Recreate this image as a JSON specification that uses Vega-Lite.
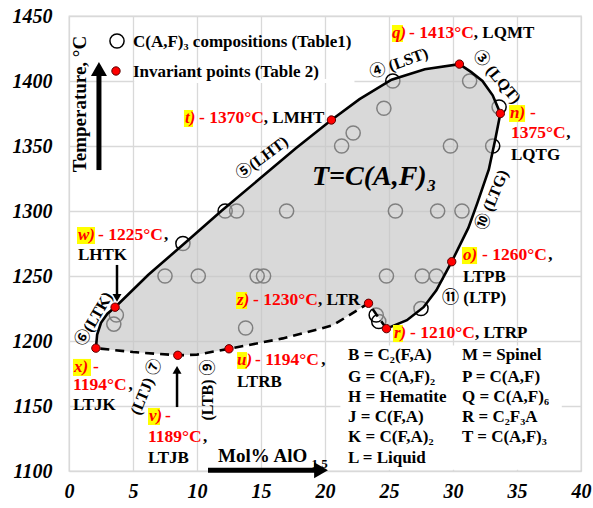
{
  "$schema": "https://vega.github.io/schema/vega-lite/v6.json",
  "width": 512,
  "height": 455,
  "autosize": {"type": "none"},
  "padding": {"left": 69, "top": 16, "right": 12, "bottom": 37},
  "background": "white",
  "config": {"view": {"stroke": "#d9d9d9", "strokeWidth": 1.3}, "font": "Liberation Serif"},
  "datasets": {
    "comp": [
      {"x": 25.3, "y": 1400}, {"x": 31.3, "y": 1400}, {"x": 24.6, "y": 1379}, {"x": 33.6, "y": 1380},
      {"x": 22.2, "y": 1360}, {"x": 21.3, "y": 1350}, {"x": 29.8, "y": 1350}, {"x": 33.1, "y": 1350},
      {"x": 12.2, "y": 1300}, {"x": 13.1, "y": 1300}, {"x": 17.0, "y": 1300}, {"x": 25.5, "y": 1300},
      {"x": 28.8, "y": 1300}, {"x": 30.7, "y": 1300}, {"x": 8.9, "y": 1275}, {"x": 7.5, "y": 1250},
      {"x": 10.1, "y": 1250}, {"x": 14.7, "y": 1250}, {"x": 15.2, "y": 1250}, {"x": 24.8, "y": 1250},
      {"x": 27.6, "y": 1250}, {"x": 28.7, "y": 1250}, {"x": 27.5, "y": 1225}, {"x": 3.7, "y": 1220},
      {"x": 3.5, "y": 1213}, {"x": 24.0, "y": 1220}, {"x": 24.2, "y": 1215}, {"x": 13.8, "y": 1210},
      {"x": 3.75, "y": 1430.8}
    ],
    "bnd": [
      {"i": 1, "x": 2.1, "y": 1194.5, "part": "solid"},
      {"i": 2, "x": 2.2, "y": 1205, "part": "solid"},
      {"i": 3, "x": 2.5, "y": 1214, "part": "solid"},
      {"i": 4, "x": 3.0, "y": 1221, "part": "solid"},
      {"i": 5, "x": 3.6, "y": 1226, "part": "solid"},
      {"i": 6, "x": 6.2, "y": 1251, "part": "solid"},
      {"i": 7, "x": 8.9, "y": 1274, "part": "solid"},
      {"i": 8, "x": 11.9, "y": 1300, "part": "solid"},
      {"i": 9, "x": 14.8, "y": 1324, "part": "solid"},
      {"i": 10, "x": 17.7, "y": 1348, "part": "solid"},
      {"i": 11, "x": 20.5, "y": 1370, "part": "solid"},
      {"i": 12, "x": 22.7, "y": 1386, "part": "solid"},
      {"i": 13, "x": 25.2, "y": 1401, "part": "solid"},
      {"i": 14, "x": 27.8, "y": 1409, "part": "solid"},
      {"i": 15, "x": 30.5, "y": 1413, "part": "solid"},
      {"i": 16, "x": 31.4, "y": 1407, "part": "solid"},
      {"i": 17, "x": 32.3, "y": 1400, "part": "solid"},
      {"i": 18, "x": 33.1, "y": 1389, "part": "solid"},
      {"i": 19, "x": 33.7, "y": 1375, "part": "solid"},
      {"i": 20, "x": 33.3, "y": 1355, "part": "solid"},
      {"i": 21, "x": 32.8, "y": 1332, "part": "solid"},
      {"i": 22, "x": 31.9, "y": 1306, "part": "solid"},
      {"i": 23, "x": 31.2, "y": 1287, "part": "solid"},
      {"i": 24, "x": 29.9, "y": 1261, "part": "solid"},
      {"i": 25, "x": 28.7, "y": 1239, "part": "solid"},
      {"i": 26, "x": 27.7, "y": 1226, "part": "solid"},
      {"i": 27, "x": 26.4, "y": 1216, "part": "solid"},
      {"i": 28, "x": 24.8, "y": 1209.5, "part": "solid"},
      {"i": 29, "x": 24.8, "y": 1209.5, "part": "dashed"},
      {"i": 30, "x": 23.4, "y": 1229, "part": "dashed"},
      {"i": 31, "x": 20.6, "y": 1212, "part": "dashed"},
      {"i": 32, "x": 16.7, "y": 1202, "part": "dashed"},
      {"i": 33, "x": 12.5, "y": 1194, "part": "dashed"},
      {"i": 34, "x": 10.0, "y": 1189.5, "part": "dashed"},
      {"i": 35, "x": 8.5, "y": 1189, "part": "dashed"},
      {"i": 36, "x": 5.0, "y": 1191.5, "part": "dashed"},
      {"i": 37, "x": 2.1, "y": 1194.5, "part": "dashed"}
    ],
    "inv": [
      {"x": 30.5, "y": 1413}, {"x": 33.7, "y": 1375}, {"x": 20.5, "y": 1370}, {"x": 3.6, "y": 1226},
      {"x": 2.1, "y": 1194.5}, {"x": 8.5, "y": 1189}, {"x": 12.5, "y": 1194}, {"x": 23.4, "y": 1229},
      {"x": 24.8, "y": 1209.5}, {"x": 29.9, "y": 1261}, {"x": 3.67, "y": 1407.7}
    ],
    "arrows": [
      {"x": 2.34, "y": 1331.5, "x2": 2.34, "y2": 1409, "w": "big"},
      {"x": 10.86, "y": 1100.5, "x2": 19.69, "y2": 1100.5, "w": "big"},
      {"x": 3.75, "y": 1258.5, "x2": 3.75, "y2": 1233.1, "w": "small"},
      {"x": 8.44, "y": 1149.2, "x2": 8.44, "y2": 1177.7, "w": "small"}
    ],
    "heads": [
      {"x": 2.34, "y": 1409.2, "dir": "up", "w": "big"},
      {"x": 19.69, "y": 1100.5, "dir": "right", "w": "big"},
      {"x": 3.75, "y": 1233.1, "dir": "down", "w": "small"},
      {"x": 8.44, "y": 1177.7, "dir": "up", "w": "small"}
    ],
    "boxes": [
      {"x": 25.23, "x2": 26.09, "y": 1443.1, "y2": 1430, "fill": "hl"},
      {"x": 8.98, "x2": 9.69, "y": 1377.7, "y2": 1364.6, "fill": "hl"},
      {"x": 34.38, "x2": 35.63, "y": 1381.5, "y2": 1368.5, "fill": "hl"},
      {"x": 0.625, "x2": 2.03, "y": 1287.7, "y2": 1274.6, "fill": "hl"},
      {"x": 0.31, "x2": 1.72, "y": 1186.2, "y2": 1173.1, "fill": "hl"},
      {"x": 6.17, "x2": 7.11, "y": 1148.5, "y2": 1135.4, "fill": "hl"},
      {"x": 13.13, "x2": 13.91, "y": 1191.5, "y2": 1178.5, "fill": "hl"},
      {"x": 13.05, "x2": 13.91, "y": 1237.7, "y2": 1224.6, "fill": "hl"},
      {"x": 25.31, "x2": 26.09, "y": 1212.3, "y2": 1199.2, "fill": "hl"},
      {"x": 30.7, "x2": 31.88, "y": 1272.3, "y2": 1259.2, "fill": "hl"},
      {"x": 21.2, "x2": 38.5, "y": 1196.5, "y2": 1101, "fill": "bg"},
      {"x": 5.1, "x2": 22.3, "y": 1401.5, "y2": 1398.5, "fill": "bg"}
    ],
    "txt": [
      {"x": 25.23, "y": 1433.1, "text": "q)", "kind": "letter"},
      {"x": 26.56, "y": 1433.1, "text": "- 1413°C", "kind": "temp"},
      {"x": 31.63, "y": 1433.1, "text": ", LQMT", "kind": "black"},
      {"x": 9.06, "y": 1367.7, "text": "t)", "kind": "letter"},
      {"x": 10.16, "y": 1367.7, "text": "- 1370°C", "kind": "temp"},
      {"x": 15.22, "y": 1367.7, "text": ", LMHT", "kind": "black"},
      {"x": 34.45, "y": 1371.5, "text": "n)", "kind": "letter"},
      {"x": 36.02, "y": 1371.5, "text": "-", "kind": "temp"},
      {"x": 34.53, "y": 1356.2, "text": "1375°C", "kind": "temp"},
      {"x": 38.85, "y": 1356.2, "text": ",", "kind": "black"},
      {"x": 34.53, "y": 1339.2, "text": "LQTG", "kind": "black"},
      {"x": 0.7, "y": 1277.7, "text": "w)", "kind": "letter"},
      {"x": 2.27, "y": 1277.7, "text": "- 1225°C", "kind": "temp"},
      {"x": 7.42, "y": 1277.7, "text": ",", "kind": "black"},
      {"x": 0.7, "y": 1262.3, "text": "LHTK", "kind": "black"},
      {"x": 0.39, "y": 1176.2, "text": "x)", "kind": "letter"},
      {"x": 1.88, "y": 1176.2, "text": "-", "kind": "temp"},
      {"x": 0.31, "y": 1162.3, "text": "1194°C", "kind": "temp"},
      {"x": 4.64, "y": 1162.3, "text": ",", "kind": "black"},
      {"x": 0.31, "y": 1146.9, "text": "LTJK", "kind": "black"},
      {"x": 6.25, "y": 1138.5, "text": "v)", "kind": "letter"},
      {"x": 7.5, "y": 1138.5, "text": "-", "kind": "temp"},
      {"x": 6.17, "y": 1122.3, "text": "1189°C", "kind": "temp"},
      {"x": 10.47, "y": 1122.3, "text": ",", "kind": "black"},
      {"x": 6.17, "y": 1106.2, "text": "LTJB", "kind": "black"},
      {"x": 13.13, "y": 1181.5, "text": "u)", "kind": "letter"},
      {"x": 14.53, "y": 1181.5, "text": "- 1194°C", "kind": "temp"},
      {"x": 19.7, "y": 1181.5, "text": ",", "kind": "black"},
      {"x": 13.13, "y": 1164.6, "text": "LTRB", "kind": "black"},
      {"x": 13.13, "y": 1227.7, "text": "z)", "kind": "letter"},
      {"x": 14.38, "y": 1227.7, "text": "- 1230°C", "kind": "temp"},
      {"x": 19.46, "y": 1227.7, "text": ", LTR", "kind": "black"},
      {"x": 25.39, "y": 1202.3, "text": "r)", "kind": "letter"},
      {"x": 26.64, "y": 1202.3, "text": "- 1210°C", "kind": "temp"},
      {"x": 31.72, "y": 1202.3, "text": ", LTRP", "kind": "black"},
      {"x": 30.78, "y": 1262.3, "text": "o)", "kind": "letter"},
      {"x": 32.27, "y": 1262.3, "text": "- 1260°C", "kind": "temp"},
      {"x": 37.45, "y": 1262.3, "text": ",", "kind": "black"},
      {"x": 30.78, "y": 1245.4, "text": "LTPB", "kind": "black"},
      {"x": 29.14, "y": 1229.2, "text": "⑪ (LTP)", "kind": "black"},
      {"x": 21.8, "y": 1185.4, "text": "B = C₂(F,A)", "kind": "black"},
      {"x": 21.8, "y": 1168.5, "text": "G = C(A,F)₂", "kind": "black"},
      {"x": 21.8, "y": 1153.1, "text": "H = Hematite", "kind": "black"},
      {"x": 21.8, "y": 1137.7, "text": "J = C(F,A)", "kind": "black"},
      {"x": 21.8, "y": 1122.3, "text": "K = C(F,A)₂", "kind": "black"},
      {"x": 21.8, "y": 1106.2, "text": "L = Liquid", "kind": "black"},
      {"x": 30.7, "y": 1185.4, "text": "M = Spinel", "kind": "black"},
      {"x": 30.7, "y": 1168.5, "text": "P = C(A,F)", "kind": "black"},
      {"x": 30.7, "y": 1153.1, "text": "Q = C(A,F)₆", "kind": "black"},
      {"x": 30.7, "y": 1137.7, "text": "R = C₂F₃A", "kind": "black"},
      {"x": 30.7, "y": 1122.3, "text": "T = C(A,F)₃", "kind": "black"},
      {"x": 5.0, "y": 1426.2, "text": "C(A,F)₃ compositions (Table1)", "kind": "black"},
      {"x": 5.0, "y": 1403.1, "text": "Invariant points (Table 2)", "kind": "black"},
      {"x": 11.64, "y": 1106.9, "text": "Mol% AlO", "kind": "xtitle"},
      {"x": 18.95, "y": 1102.6, "text": "1.5", "kind": "xsub"},
      {"x": 18.98, "y": 1320, "text": "T=C(A,F)₃", "kind": "big"},
      {"x": 0.86, "y": 1382.3, "text": "Temperature, °C", "kind": "ytitle"},
      {"x": 25.78, "y": 1413.8, "text": "④ (LST)", "kind": "r20"},
      {"x": 33.44, "y": 1403.1, "text": "③ (LQT)", "kind": "r50"},
      {"x": 15.08, "y": 1340.8, "text": "⑤(LHT)", "kind": "r37"},
      {"x": 1.95, "y": 1216.9, "text": "⑥(LTK)", "kind": "r60"},
      {"x": 6.02, "y": 1164.6, "text": "(LTJ) ⑦", "kind": "r68"},
      {"x": 33.05, "y": 1308.5, "text": "⑩ (LTG)", "kind": "r68"},
      {"x": 10.86, "y": 1162.3, "text": "(LTB) ⑨", "kind": "r90"}
    ]
  },
  "encoding": {
    "x": {"field": "x", "type": "quantitative", "scale": {"domain": [0, 40], "nice": false, "zero": false},
      "axis": {"values": [0, 5, 10, 15, 20, 25, 30, 35, 40], "format": "d", "title": null, "domain": false, "ticks": false, "grid": true, "gridColor": "#d9d9d9", "gridWidth": 1.3,
        "labelFont": "Liberation Serif", "labelFontSize": 20, "labelFontStyle": "italic", "labelFontWeight": "bold", "labelColor": "black", "labelPadding": 10, "labelFlush": false}},
    "y": {"field": "y", "type": "quantitative", "scale": {"domain": [1100, 1450], "nice": false, "zero": false},
      "axis": {"values": [1100, 1150, 1200, 1250, 1300, 1350, 1400, 1450], "format": "d", "title": null, "domain": false, "ticks": false, "grid": true, "gridColor": "#d9d9d9", "gridWidth": 1.3,
        "labelFont": "Liberation Serif", "labelFontSize": 20, "labelFontStyle": "italic", "labelFontWeight": "bold", "labelColor": "black", "labelPadding": 17, "labelFlush": false}}
  },
  "layer": [
    {"data": {"name": "boxes"}, "transform": [{"filter": "datum.fill == 'bg'"}],
      "mark": {"type": "rect", "fill": "white", "strokeWidth": 0},
      "encoding": {"x2": {"field": "x2"}, "y2": {"field": "y2"}}},
    {"data": {"name": "comp"},
      "mark": {"type": "point", "shape": "circle", "size": 200, "filled": false, "stroke": "black", "strokeWidth": 1.5, "opacity": 1}},
    {"data": {"name": "bnd"},
      "mark": {"type": "line", "fill": "#c5c5c5", "fillOpacity": 0.65, "strokeOpacity": 0, "strokeWidth": 0},
      "encoding": {"order": {"field": "i", "type": "quantitative"}}},
    {"data": {"name": "bnd"}, "transform": [{"filter": "datum.part == 'solid'"}],
      "mark": {"type": "line", "color": "black", "strokeWidth": 2.6},
      "encoding": {"order": {"field": "i", "type": "quantitative"}}},
    {"data": {"name": "bnd"}, "transform": [{"filter": "datum.part == 'dashed'"}],
      "mark": {"type": "line", "color": "black", "strokeWidth": 2.6, "strokeDash": [9, 6]},
      "encoding": {"order": {"field": "i", "type": "quantitative"}}},
    {"data": {"name": "inv"},
      "mark": {"type": "point", "shape": "circle", "size": 70, "filled": true, "fill": "#ff0000", "stroke": "#5a0000", "strokeWidth": 1, "opacity": 1}},
    {"data": {"name": "arrows"},
      "mark": {"type": "rule", "color": "black"},
      "encoding": {"x2": {"field": "x2"}, "y2": {"field": "y2"},
        "strokeWidth": {"field": "w", "type": "nominal", "scale": {"domain": ["big", "small"], "range": [5, 2.5]}, "legend": null}}},
    {"data": {"name": "heads"},
      "mark": {"type": "point", "filled": true, "color": "black", "opacity": 1, "strokeWidth": 0},
      "encoding": {
        "shape": {"field": "dir", "type": "nominal", "scale": {"domain": ["up", "down", "right"], "range": ["triangle-up", "triangle-down", "triangle-right"]}, "legend": null},
        "size": {"field": "w", "type": "nominal", "scale": {"domain": ["big", "small"], "range": [256, 80]}, "legend": null}}},
    {"data": {"name": "boxes"}, "transform": [{"filter": "datum.fill == 'hl'"}],
      "mark": {"type": "rect", "fill": "#ffff00", "strokeWidth": 0},
      "encoding": {"x2": {"field": "x2"}, "y2": {"field": "y2"}}},
    {"data": {"name": "txt"}, "transform": [{"filter": "datum.kind == 'letter'"}],
      "mark": {"type": "text", "font": "Liberation Serif", "fontSize": 17, "fontWeight": "bold", "fontStyle": "italic", "color": "#ff0000", "align": "left", "baseline": "alphabetic"},
      "encoding": {"text": {"field": "text"}}},
    {"data": {"name": "txt"}, "transform": [{"filter": "datum.kind == 'temp'"}],
      "mark": {"type": "text", "font": "Liberation Serif", "fontSize": 17.5, "fontWeight": "bold", "color": "#ff0000", "align": "left", "baseline": "alphabetic"},
      "encoding": {"text": {"field": "text"}}},
    {"data": {"name": "txt"}, "transform": [{"filter": "datum.kind == 'black'"}],
      "mark": {"type": "text", "font": "Liberation Serif, Noto Sans CJK JP", "fontSize": 17, "fontWeight": "bold", "color": "black", "align": "left", "baseline": "alphabetic"},
      "encoding": {"text": {"field": "text"}}},
    {"data": {"name": "txt"}, "transform": [{"filter": "datum.kind == 'xtitle'"}],
      "mark": {"type": "text", "font": "Liberation Serif", "fontSize": 19, "fontWeight": "bold", "color": "black", "align": "left", "baseline": "alphabetic"},
      "encoding": {"text": {"field": "text"}}},
    {"data": {"name": "txt"}, "transform": [{"filter": "datum.kind == 'xsub'"}],
      "mark": {"type": "text", "font": "Liberation Serif", "fontSize": 13, "fontWeight": "bold", "color": "black", "align": "left", "baseline": "alphabetic"},
      "encoding": {"text": {"field": "text"}}},
    {"data": {"name": "txt"}, "transform": [{"filter": "datum.kind == 'big'"}],
      "mark": {"type": "text", "font": "Liberation Serif", "fontSize": 28, "fontWeight": "bold", "fontStyle": "italic", "color": "black", "align": "left", "baseline": "alphabetic"},
      "encoding": {"text": {"field": "text"}}},
    {"data": {"name": "txt"}, "transform": [{"filter": "datum.kind == 'ytitle'"}],
      "mark": {"type": "text", "font": "Liberation Serif", "fontSize": 19, "fontWeight": "bold", "color": "black", "align": "center", "baseline": "middle", "angle": 270},
      "encoding": {"text": {"field": "text"}}},
    {"data": {"name": "txt"}, "transform": [{"filter": "datum.kind == 'r20'"}],
      "mark": {"type": "text", "font": "Liberation Serif, Noto Sans CJK JP", "fontSize": 16, "fontWeight": "bold", "color": "black", "align": "center", "baseline": "middle", "angle": 340},
      "encoding": {"text": {"field": "text"}}},
    {"data": {"name": "txt"}, "transform": [{"filter": "datum.kind == 'r50'"}],
      "mark": {"type": "text", "font": "Liberation Serif, Noto Sans CJK JP", "fontSize": 16, "fontWeight": "bold", "color": "black", "align": "center", "baseline": "middle", "angle": 50},
      "encoding": {"text": {"field": "text"}}},
    {"data": {"name": "txt"}, "transform": [{"filter": "datum.kind == 'r37'"}],
      "mark": {"type": "text", "font": "Liberation Serif, Noto Sans CJK JP", "fontSize": 16, "fontWeight": "bold", "color": "black", "align": "center", "baseline": "middle", "angle": 323},
      "encoding": {"text": {"field": "text"}}},
    {"data": {"name": "txt"}, "transform": [{"filter": "datum.kind == 'r60'"}],
      "mark": {"type": "text", "font": "Liberation Serif, Noto Sans CJK JP", "fontSize": 16, "fontWeight": "bold", "color": "black", "align": "center", "baseline": "middle", "angle": 300},
      "encoding": {"text": {"field": "text"}}},
    {"data": {"name": "txt"}, "transform": [{"filter": "datum.kind == 'r68'"}],
      "mark": {"type": "text", "font": "Liberation Serif, Noto Sans CJK JP", "fontSize": 16, "fontWeight": "bold", "color": "black", "align": "center", "baseline": "middle", "angle": 292},
      "encoding": {"text": {"field": "text"}}},
    {"data": {"name": "txt"}, "transform": [{"filter": "datum.kind == 'r90'"}],
      "mark": {"type": "text", "font": "Liberation Serif, Noto Sans CJK JP", "fontSize": 16, "fontWeight": "bold", "color": "black", "align": "center", "baseline": "middle", "angle": 270},
      "encoding": {"text": {"field": "text"}}}
  ]
}
